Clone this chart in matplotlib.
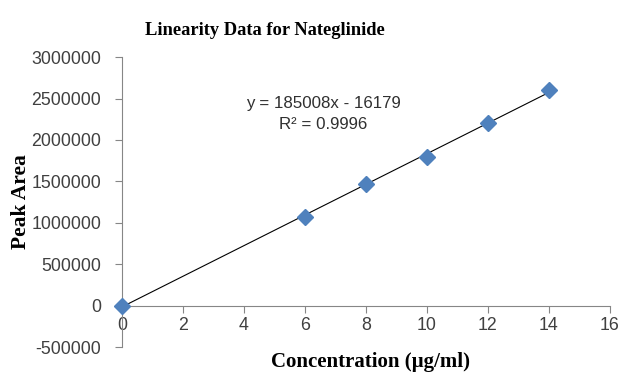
import matplotlib
matplotlib.use("Agg")
import matplotlib.pyplot as plt
import numpy as np

conc = [0, 6, 8, 10, 12, 14]
peak_area = [0, 1075000, 1470000, 1800000, 2205000, 2600000]
slope = 185008
intercept = -16179
r2 = 0.9996
x_ticks = [0, 2, 4, 6, 8, 10, 12, 14, 16]
y_ticks = [-500000, 0, 500000, 1000000, 1500000, 2000000, 2500000, 3000000]

fig = plt.figure(figsize=(6.38, 3.76), dpi=100)
ax = fig.add_axes([0.191, 0.077, 0.765, 0.771])

fit_x = np.array([conc[0], conc[-1]])
ax.plot(fit_x, slope * fit_x + intercept, color="black", lw=0.8, zorder=2)
ax.plot(conc, peak_area, linestyle="none", marker="D", ms=8,
        color="#4F81BD", markeredgecolor="#4F81BD", zorder=3, clip_on=False)

ax.set_xlim(0, 16)
ax.set_ylim(-500000, 3000000)
ax.set_xticks(x_ticks)
ax.set_yticks(y_ticks)
ax.set_xticklabels([str(v) for v in x_ticks])
ax.set_yticklabels([str(v) for v in y_ticks])

for s in ["top", "right"]:
    ax.spines[s].set_visible(False)
ax.spines["bottom"].set_position(("data", 0))
ax.spines["bottom"].set_color("#868686")
ax.spines["left"].set_color("#868686")
ax.tick_params(axis="both", colors="#868686", labelcolor="#404040",
               labelsize=12.8, length=5, width=0.8)
ax.tick_params(axis="y", pad=10)
ax.tick_params(axis="x", pad=3)
for lab in ax.get_xticklabels() + ax.get_yticklabels():
    lab.set_family("Liberation Sans")

ax.text(0.412, 0.805, f"y = {slope}x - {abs(intercept)}\nR² = {r2}",
        transform=ax.transAxes, ha="center", va="center", fontsize=12.2,
        color="#303030", family="Liberation Sans", linespacing=1.5)

fig.text(0.415, 0.92, "Linearity Data for Nateglinide", ha="center", va="center",
         fontsize=13.3, fontweight="bold", family="Liberation Serif")
fig.text(0.58, 0.037, "Concentration (µg/ml)", ha="center", va="center",
         fontsize=15, fontweight="bold", family="Liberation Serif")
fig.text(0.033, 0.465, "Peak Area", ha="center", va="center", rotation=90,
         fontsize=15.5, fontweight="bold", family="Liberation Serif")

fig.savefig("out.png", dpi=100)
